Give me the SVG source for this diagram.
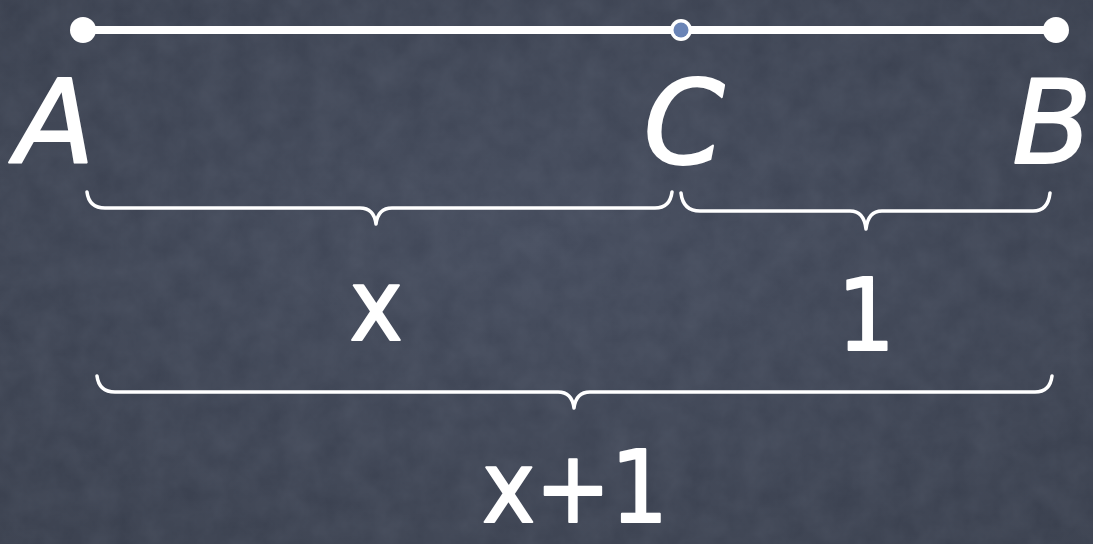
<svg xmlns="http://www.w3.org/2000/svg" width="1093" height="544" viewBox="0 0 1093 544">
<defs>
<radialGradient id="bg" cx="50%" cy="45%" r="75%">
<stop offset="0" stop-color="#42495a"/>
<stop offset="1" stop-color="#373d4b"/>
</radialGradient>
<filter id="chalk" x="0" y="0" width="100%" height="100%">
<feTurbulence type="fractalNoise" baseFrequency="0.035" numOctaves="4" seed="4"/>
<feColorMatrix values="0 0 0 0 0.45  0 0 0 0 0.5  0 0 0 0 0.6  0 0 0 0.12 0"/>
</filter>
</defs>
<style>
.lbl{font-family:"DejaVu Sans",sans-serif;fill:#fff;stroke:#fff;stroke-width:2;stroke-linejoin:round;text-anchor:middle}
.pt{font-style:italic;font-size:116px}
.val{font-family:"DejaVu Sans Condensed","DejaVu Sans",sans-serif;font-size:100px}
.brace{fill:none;stroke:#fff;stroke-width:3.5;stroke-linecap:round;stroke-linejoin:round}
</style>
<rect width="1093" height="544" fill="url(#bg)"/>
<rect width="1093" height="544" filter="url(#chalk)"/>
<g id="segment">
<line x1="83" y1="30" x2="1056" y2="30" stroke="#fff" stroke-width="8"/>
</g>
<g id="point-A">
<circle cx="83" cy="30" r="13" fill="#fff"/>
<text class="lbl pt" x="55" y="163">A</text>
</g>
<g id="point-C">
<circle cx="681" cy="30" r="11" fill="#fff"/>
<circle cx="681" cy="30" r="7.5" fill="#6a84b6"/>
<text class="lbl pt" x="684" y="163">C</text>
</g>
<g id="point-B">
<circle cx="1056" cy="30" r="13" fill="#fff"/>
<text class="lbl pt" x="1052" y="163">B</text>
</g>
<g id="connectors">
<path class="brace" d="M87 192 Q89 208 105 208 L360 208 Q374 208 376 224 Q378 208 392 208 L655 208 Q670 208 672 192"/>
<path class="brace" d="M681 193 Q683 211 700 211 L850 211 Q864 211 866 229 Q868 211 882 211 L1033 211 Q1048 211 1050 193"/>
<path class="brace" d="M97 376 Q99 392 115 392 L558 392 Q572 392 574 408 Q576 392 590 392 L1035 392 Q1050 392 1052 376"/>
</g>
<g id="label-x">
<text class="lbl val" x="376" y="340">x</text>
</g>
<g id="label-1">
<text class="lbl val" x="866" y="350">1</text>
</g>
<g id="label-x1">
<text class="lbl val" x="575" y="522" font-size="104">x+1</text>
</g>
</svg>
